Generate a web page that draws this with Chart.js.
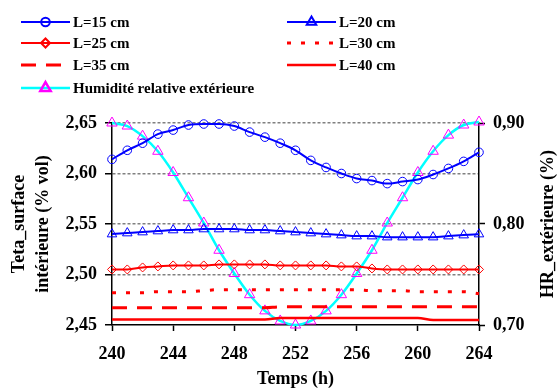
<!DOCTYPE html>
<html>
<head>
<meta charset="utf-8">
<script src="https://cdn.jsdelivr.net/npm/chart.js@4/dist/chart.umd.min.js"></script>
<style>
    html, body { margin: 0; padding: 0; background: #fff; }
    #wrap { width: 557px; height: 390px; }
</style>
</head>
<body>
<div id="wrap"><canvas id="chart" width="557" height="390"></canvas></div>
<script>
//temps (h)
var hours = [240, 241, 242, 243, 244, 245, 246, 247, 248, 249, 250, 251, 252,
             253, 254, 255, 256, 257, 258, 259, 260, 261, 262, 263, 264];

//teta surface intérieure (% vol), une liste par épaisseur
var teta15 = [2.614, 2.623, 2.630, 2.639, 2.643, 2.648, 2.649, 2.649, 2.647, 2.641, 2.636, 2.630, 2.623,
              2.613, 2.606, 2.600, 2.595, 2.593, 2.590, 2.592, 2.594, 2.599, 2.605, 2.612, 2.621];
var teta20 = [2.540, 2.541, 2.542, 2.543, 2.544, 2.544, 2.545, 2.545, 2.545, 2.544, 2.544, 2.543, 2.542,
              2.541, 2.540, 2.539, 2.538, 2.538, 2.537, 2.537, 2.537, 2.537, 2.538, 2.539, 2.540];
var teta25 = [2.505, 2.505, 2.507, 2.508, 2.509, 2.509, 2.509, 2.510, 2.510, 2.510, 2.510, 2.509, 2.509,
              2.509, 2.509, 2.508, 2.508, 2.506, 2.505, 2.505, 2.505, 2.505, 2.505, 2.505, 2.505];
var teta30 = [2.482, 2.482, 2.482, 2.483, 2.483, 2.483, 2.484, 2.485, 2.485, 2.485, 2.485, 2.485, 2.485,
              2.485, 2.485, 2.485, 2.485, 2.484, 2.484, 2.484, 2.483, 2.483, 2.483, 2.483, 2.481];
var teta35 = [2.467, 2.467, 2.467, 2.467, 2.467, 2.467, 2.467, 2.467, 2.467, 2.467, 2.467, 2.468, 2.468,
              2.468, 2.468, 2.468, 2.468, 2.468, 2.468, 2.468, 2.468, 2.468, 2.468, 2.468, 2.468];
var teta40 = [2.4555, 2.4555, 2.4555, 2.4555, 2.4555, 2.4555, 2.4555, 2.4555, 2.4555, 2.4555, 2.4555, 2.457, 2.457,
              2.457, 2.457, 2.457, 2.457, 2.457, 2.457, 2.457, 2.457, 2.455, 2.455, 2.455, 2.455];

//humidité relative extérieure
var hrExt = [0.900, 0.897, 0.887, 0.872, 0.851, 0.826, 0.801, 0.774, 0.751, 0.730, 0.714, 0.704, 0.700,
             0.704, 0.714, 0.730, 0.751, 0.774, 0.801, 0.826, 0.851, 0.872, 0.888, 0.898, 0.901];

//graduations
var timeTicks = [240, 244, 248, 252, 256, 260, 264];
var tetaTicks = [2.45, 2.50, 2.55, 2.60, 2.65];
var hrTicks = [0.70, 0.80, 0.90];

var FONT = "'Liberation Serif', 'Times New Roman', serif";
var BLUE = '#0000FF', RED = '#FF0000', CYAN = '#00FFFF', MAGENTA = '#FF00FF';

function toPoints(values) {
    return hours.map(function (h, i) { return { x: h, y: values[i] }; });
}

function comma(v) {
    return v.toFixed(2).replace('.', ',');
}

function fixTicks(list) {
    return function (scale) {
        scale.ticks = list.map(function (v) { return { value: v }; });
    };
}

function line(label, values, color, extra) {
    var ds = {
        label: label,
        data: toPoints(values),
        borderColor: color,
        borderWidth: 2,
        pointRadius: 0,
        pointBorderWidth: 1,
        pointBorderColor: color,
        pointBackgroundColor: 'rgba(0,0,0,0)',
        cubicInterpolationMode: 'monotone',
        fill: false,
        clip: false,
        yAxisID: 'y'
    };
    for (var k in extra) ds[k] = extra[k];
    return ds;
}

var datasets = [
    line('L=15 cm', teta15, BLUE, { pointStyle: 'circle', pointRadius: 4.3 }),
    line('L=20 cm', teta20, BLUE, { pointStyle: 'triangle', pointRadius: 5.5 }),
    line('L=25 cm', teta25, RED, { pointStyle: 'rectRot', pointRadius: 4.5 }),
    line('L=30 cm', teta30, RED, { borderWidth: 3, borderDash: [4, 10] }),
    line('L=35 cm', teta35, RED, { borderWidth: 3, borderDash: [15, 10] }),
    line('L=40 cm', teta40, RED, { borderWidth: 2.5 }),
    line('Humidité relative extérieure', hrExt, CYAN, {
        borderWidth: 2.5, pointStyle: 'triangle', pointRadius: 6,
        pointBorderColor: MAGENTA, yAxisID: 'y2'
    })
];

//légende sur deux colonnes, dessinée à la main
var legendPlugin = {
    id: 'colLegend',
    afterDraw: function (chart) {
        var ctx = chart.ctx;
        var cols = [21, 287];
        var rows = [22, 43, 65, 88];
        chart.data.datasets.forEach(function (ds, i) {
            var x = cols[i % 2], y = rows[Math.floor(i / 2)];
            ctx.save();
            ctx.strokeStyle = ds.borderColor;
            ctx.lineWidth = ds.borderWidth;
            ctx.setLineDash(ds.borderDash || []);
            ctx.beginPath();
            ctx.moveTo(x, y);
            ctx.lineTo(x + 49, y);
            ctx.stroke();
            ctx.setLineDash([]);
            if (ds.pointRadius > 0) {
                ctx.strokeStyle = ds.pointBorderColor;
                ctx.fillStyle = ds.pointBackgroundColor;
                Chart.helpers.drawPoint(ctx, {
                    pointStyle: ds.pointStyle, radius: ds.pointRadius,
                    borderWidth: ds.pointBorderWidth, rotation: 0
                }, x + 24.5, y);
            }
            ctx.fillStyle = '#000';
            ctx.font = 'bold 15px ' + FONT;
            ctx.textBaseline = 'middle';
            ctx.textAlign = 'left';
            ctx.fillText(ds.label, x + 52, y + 1);
            ctx.restore();
        });

        //titre de l'axe de droite, lu de bas en haut
        var area = chart.chartArea;
        ctx.save();
        ctx.translate(548, (area.top + area.bottom) / 2);
        ctx.rotate(-Math.PI / 2);
        ctx.font = 'bold 18px ' + FONT;
        ctx.fillStyle = '#000';
        ctx.textAlign = 'center';
        ctx.textBaseline = 'middle';
        ctx.fillText('HR_extérieure (%)', 0, 0);
        ctx.restore();
    }
};

new Chart(document.getElementById('chart'), {
    type: 'line',
    data: { datasets: datasets },
    options: {
        responsive: false,
        animation: false,
        devicePixelRatio: 1,
        layout: { padding: { top: 123, left: 0, right: 0, bottom: 0 } },
        plugins: {
            legend: { display: false },
            tooltip: { enabled: false }
        },
        scales: {
            x: {
                type: 'linear',
                min: 240,
                max: 264,
                afterBuildTicks: fixTicks(timeTicks),
                afterFit: function (s) { s.height = 65; },
                grid: { drawOnChartArea: false, tickLength: 6, tickColor: '#000', tickWidth: 1.5 },
                border: { color: '#000', width: 1.5 },
                ticks: { color: '#000', padding: 13, font: { family: FONT, size: 18, weight: 'bold' } },
                title: {
                    display: true, text: 'Temps (h)', color: '#000',
                    padding: { top: 0, bottom: 0 },
                    font: { family: FONT, size: 18, weight: 'bold' }
                }
            },
            y: {
                position: 'left',
                min: 2.45,
                max: 2.65,
                afterBuildTicks: fixTicks(tetaTicks),
                afterFit: function (s) { s.width = 112; },
                grid: {
                    color: function (c) { return c.tick && c.tick.value <= 2.45 ? 'rgba(0,0,0,0)' : '#808080'; },
                    lineWidth: 1.5,
                    tickLength: 7,
                    tickColor: '#000',
                    tickWidth: 1.5,
                    tickBorderDash: []
                },
                border: { color: '#000', width: 1.5, dash: [3, 2] },
                ticks: {
                    color: '#000', padding: 8,
                    font: { family: FONT, size: 18, weight: 'bold' },
                    callback: function (v) { return comma(v); }
                },
                title: {
                    display: true,
                    text: ['Teta_surface', 'intérieure (% vol)'],
                    color: '#000',
                    padding: { top: 8, bottom: 0 },
                    font: { family: FONT, size: 18, weight: 'bold', lineHeight: 1.3 }
                }
            },
            y2: {
                position: 'right',
                min: 0.70,
                max: 0.90,
                afterBuildTicks: fixTicks(hrTicks),
                afterFit: function (s) { s.width = 78; },
                grid: { drawOnChartArea: false, tickLength: 6, tickColor: '#000', tickWidth: 1.5 },
                border: { color: '#000', width: 1.5 },
                ticks: {
                    color: '#000', padding: 8,
                    font: { family: FONT, size: 18, weight: 'bold' },
                    callback: function (v) { return comma(v); }
                }
            }
        }
    },
    plugins: [legendPlugin]
});
</script>
</body>
</html>
